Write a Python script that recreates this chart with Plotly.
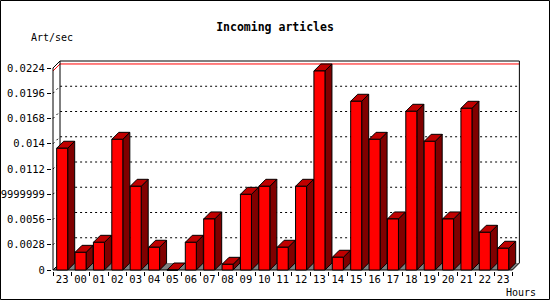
import plotly.graph_objects as go

# ---- data ----
hours = ["23", "00", "01", "02", "03", "04", "05", "06", "07", "08", "09", "10",
         "11", "12", "13", "14", "15", "16", "17", "18", "19", "20", "21", "22", "23"]
art_per_sec = [0.01350, 0.00196, 0.00307, 0.01449, 0.00928, 0.00252, 0.0, 0.00307,
               0.00566, 0.00063, 0.00839, 0.00928, 0.00252, 0.00928, 0.02207, 0.00141,
               0.01871, 0.01449, 0.00566, 0.01760, 0.01427, 0.00566, 0.01793, 0.00418,
               0.00241]
ytick_vals = [0, 0.0028, 0.0056, 0.0084, 0.0112, 0.014, 0.0168, 0.0196, 0.0224]
ytick_text = ["0", "0.0028", "0.0056", "0.00839999999999999", "0.0112", "0.014",
              "0.0168", "0.0196", "0.0224"]
title_text = "Incoming articles"
y_title = "Art/sec"
x_title = "Hours"

# ---- geometry (pixels -> data units) ----
W, H = 550, 300
L, R, T, B = 52, 522, 60, 271          # plot area in pixels
px_per_cat = 18.375
px_per_val = 202 / 0.0224
x_lo = -0.5 - (53 - L) / px_per_cat
x_hi = x_lo + (R - L) / px_per_cat
y_lo = -(B - 270) / px_per_val
y_hi = (270 - T) / px_per_val
dx = 7 / px_per_cat
dy = 7 / px_per_val
half = 0.3
n = len(hours)
ymax_axis = ytick_vals[-1]

FONT = "DejaVu Sans Mono"
fig = go.Figure()

def poly(xs, ys, fill, line_color="black", width=1):
    fig.add_trace(go.Scatter(x=xs, y=ys, mode="lines", fill="toself", fillcolor=fill,
                             line=dict(color=line_color, width=width),
                             hoverinfo="skip", showlegend=False))

def line(xs, ys, color="black", dash="solid", width=1):
    fig.add_trace(go.Scatter(x=xs, y=ys, mode="lines",
                             line=dict(color=color, width=width, dash=dash),
                             hoverinfo="skip", showlegend=False))

left, right = -0.5, n - 0.5

# floor
poly([left, right, right + dx, left + dx, left], [0, 0, dy, dy, 0], "#808080",
     line_color="rgba(0,0,0,0)")

# dashed grid on back wall (with diagonal start on left wall)
gx, gy = [], []
for v in ytick_vals[1:-1]:
    gx += [left, left + dx, right + dx, None]
    gy += [v, v + dy, v + dy, None]
line(gx, gy, dash="2px,3px")

# max line
vmax = max(art_per_sec)
line([left, left + dx, right + dx], [vmax, vmax + dy, vmax + dy], color="#ff0000")

# frame
line([left, left, left + dx, right + dx, right + dx, right, left],
     [0, ymax_axis, ymax_axis + dy, ymax_axis + dy, dy, 0, 0])
line([left + dx, left + dx], [dy, ymax_axis + dy])
line([left, left + dx], [0, dy])

# bars: sides, tops, fronts
sx, sy, tx, ty, fx, fy = [], [], [], [], [], []
for k, v in enumerate(art_per_sec):
    a, b = k - half, k + half
    sx += [b, b + dx, b + dx, b, b, None]
    sy += [0, dy, v + dy, v, 0, None]
    tx += [a, b, b + dx, a + dx, a, None]
    ty += [v, v, v + dy, v + dy, v, None]
    fx += [a, b, b, a, a, None]
    fy += [0, 0, v, v, 0, None]
poly(sx, sy, "#800000")
poly(tx, ty, "#c00000")
poly(fx, fy, "#ff0000")

def paper_x(px):
    return (px - L) / (R - L)

def paper_y(py):
    return (B - py) / (B - T)

fig.update_layout(
    width=W, height=H,
    margin=dict(l=L, r=W - R, t=T, b=H - B, pad=0),
    paper_bgcolor="white", plot_bgcolor="white",
    showlegend=False, hovermode=False,
    title=dict(text="<b>" + title_text + "</b>", x=0.5, xref="container",
               xanchor="center", y=1 - 27 / H, yref="container", yanchor="middle",
               font=dict(family=FONT, size=11.5, color="black")),
    xaxis=dict(range=[x_lo, x_hi], showgrid=False, zeroline=False, showline=False,
               tickmode="array", tickvals=list(range(n)), ticktext=hours, ticks="",
               tickfont=dict(family=FONT, size=10.5, color="black"),
               automargin=False, fixedrange=True),
    xaxis2=dict(range=[x_lo, x_hi], overlaying="x", anchor="y", side="bottom",
                showgrid=False, zeroline=False, showline=False,
                tickmode="array", tickvals=[k - 0.5 for k in range(n + 1)],
                ticks="outside", ticklen=4, tickcolor="black", tickwidth=1,
                showticklabels=False, automargin=False, fixedrange=True),
    yaxis=dict(range=[y_lo, y_hi], showgrid=False, zeroline=False, showline=False,
               tickmode="array", tickvals=ytick_vals, ticktext=ytick_text,
               ticks="outside", ticklen=4, tickcolor="black", tickwidth=1,
               tickfont=dict(family=FONT, size=10.5, color="black"),
               automargin=False, fixedrange=True),
    annotations=[
        dict(text=y_title, xref="paper", yref="paper", x=paper_x(29), y=paper_y(37),
             xanchor="left", yanchor="middle", showarrow=False,
             font=dict(family=FONT, size=10, color="black")),
        dict(text=x_title, xref="paper", yref="paper", x=paper_x(504), y=paper_y(292),
             xanchor="left", yanchor="middle", showarrow=False,
             font=dict(family=FONT, size=10, color="black")),
    ],
    shapes=[dict(type="rect", xref="paper", yref="paper",
                 x0=paper_x(0.5), x1=paper_x(549.5), y0=paper_y(299.5), y1=paper_y(0.5),
                 line=dict(color="black", width=1), fillcolor="rgba(0,0,0,0)",
                 layer="above")],
)
# dummy trace to activate xaxis2 ticks
fig.add_trace(go.Scatter(x=[x_lo], y=[y_lo], xaxis="x2", mode="markers",
                         marker=dict(opacity=0), hoverinfo="skip", showlegend=False))

fig.write_html("out.html", config={"displayModeBar": False})
